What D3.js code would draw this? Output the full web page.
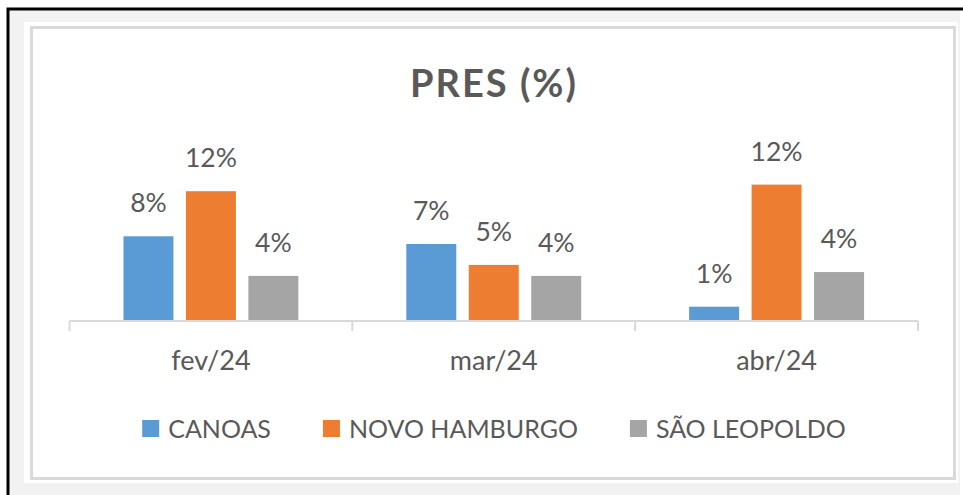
<!DOCTYPE html>
<html>
<head>
<meta charset="utf-8">
<script src="https://cdn.jsdelivr.net/npm/d3@7"></script>
<style>
  html, body { margin: 0; padding: 0; background: #ffffff; }
  svg { display: block; }
  text { font-family: Lato, "Noto Sans", sans-serif; fill: #595959; }
</style>
</head>
<body>
<svg id="chart" width="963" height="495"></svg>
<script>
// ---- data ----
const title = "PRES (%)";
const categories = ["fev/24", "mar/24", "abr/24"];
const seriesNames = ["CANOAS", "NOVO HAMBURGO", "SÃO LEOPOLDO"];
const canoas = [7.7, 7.0, 1.3];
const novoHamburgo = [11.8, 5.1, 12.4];
const saoLeopoldo = [4.1, 4.1, 4.45];
const seriesColors = ["#5b9bd5", "#ed7d31", "#a5a5a5"];

const seriesValues = [canoas, novoHamburgo, saoLeopoldo];
const rows = [];
categories.forEach((c, ci) => {
  seriesNames.forEach((s, si) => rows.push({ cat: c, series: s, value: seriesValues[si][ci], color: seriesColors[si] }));
});

const svg = d3.select("#chart");

// frame / background
svg.append("rect").attr("x", 9).attr("y", 10).attr("width", 951).attr("height", 485).attr("fill", "#f2f2f2");
svg.append("path").attr("d", "M8,495 L8,9 L963,9").attr("fill", "none").attr("stroke", "#000").attr("stroke-width", 3);
svg.append("rect").attr("x", 24).attr("y", 22).attr("width", 934).attr("height", 461).attr("fill", "#ffffff");
svg.append("rect").attr("x", 31.5).attr("y", 27.5).attr("width", 923).attr("height", 451)
  .attr("fill", "none").attr("stroke", "#d9d9d9").attr("stroke-width", 3);

// scales
const baseY = 321;
const x0 = d3.scaleBand().domain(categories).range([69.5, 918]).paddingInner(0).paddingOuter(0);
const x1 = d3.scaleBand().domain(seriesNames).range([0, x0.bandwidth()]).paddingInner(0.2).paddingOuter(0.864);
const y = d3.scaleLinear().domain([0, 14]).range([baseY, baseY - 154]);

// title
svg.append("text").attr("x", 494).attr("y", 97).attr("text-anchor", "middle")
  .style("font-size", "38px").style("font-weight", "bold").style("letter-spacing", "2px").text(title);

// bars
svg.append("g").selectAll("rect").data(rows).join("rect")
  .attr("x", d => x0(d.cat) + x1(d.series))
  .attr("y", d => y(d.value))
  .attr("width", x1.bandwidth())
  .attr("height", d => y(0) - y(d.value))
  .attr("fill", d => d.color);

// value labels
svg.append("g").selectAll("text").data(rows).join("text")
  .attr("x", d => x0(d.cat) + x1(d.series) + x1.bandwidth() / 2)
  .attr("y", d => y(d.value) - 24)
  .attr("text-anchor", "middle")
  .style("font-size", "26.5px")
  .text(d => d3.format(".0f")(d.value) + "%");

// x axis
const axis = d3.axisBottom(x0).tickSize(0).tickFormat("");
const gx = svg.append("g").attr("transform", `translate(0,${baseY})`).call(axis);
gx.select(".domain").attr("stroke", "#d9d9d9").attr("stroke-width", 2).attr("d", `M${x0.range()[0]},0H${x0.range()[1]}`);
// boundary ticks
const bounds = categories.map(c => x0(c)).concat([x0.range()[1]]);
svg.append("g").selectAll("line").data(bounds).join("line")
  .attr("x1", d => d).attr("x2", d => d).attr("y1", baseY).attr("y2", baseY + 10)
  .attr("stroke", "#d9d9d9").attr("stroke-width", 2);
svg.append("g").selectAll("text").data(categories).join("text")
  .attr("x", d => x0(d) + x0.bandwidth() / 2).attr("y", 370)
  .attr("text-anchor", "middle").style("font-size", "27px").text(d => d);

// legend
const lg = svg.append("g");
const items = lg.selectAll("g").data(seriesNames).join("g");
items.append("rect").attr("width", 17).attr("height", 17).attr("y", 420).attr("fill", (d, i) => seriesColors[i]);
items.append("text").attr("x", 26).attr("y", 438).style("font-size", "25px").text(d => d);
let cx = 0;
const widths = [];
items.each(function () { const w = d3.select(this).select("text").node().getComputedTextLength(); widths.push(26 + w); });
const total = d3.sum(widths) + 52 * (widths.length - 1);
cx = 494 - total / 2;
items.attr("transform", (d, i) => { const t = `translate(${cx},0)`; cx += widths[i] + 52; return t; });
</script>
</body>
</html>
